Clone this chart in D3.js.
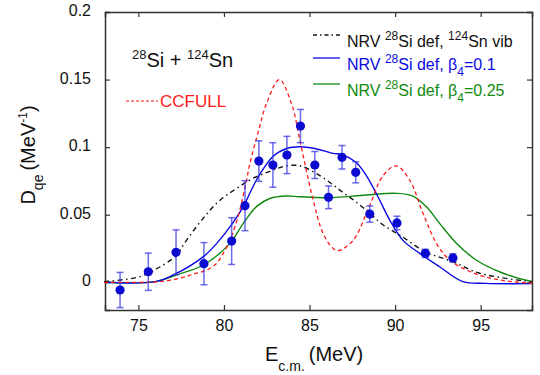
<!DOCTYPE html>
<html>
<head>
<meta charset="utf-8">
<script src="https://cdn.jsdelivr.net/npm/d3@7"></script>
<style>
  html, body { margin: 0; padding: 0; background: #fff; }
  svg { display: block; font-family: "Liberation Sans", Arial, Helvetica, sans-serif; }
</style>
</head>
<body>
<svg id="chart" width="540" height="375"></svg>
<script>
// Measured quasi-elastic barrier distribution, 28Si + 124Sn
const expE   = [73.93, 75.58, 77.2, 78.83, 80.45, 81.23, 82.04, 82.86, 83.68, 84.47, 85.31, 86.11, 86.9, 87.7, 88.52, 90.11, 91.77, 93.38];
const expD   = [-0.0057, 0.0078, 0.0222, 0.0138, 0.0305, 0.0567, 0.0897, 0.0868, 0.0942, 0.1156, 0.0868, 0.0629, 0.0925, 0.0814, 0.0505, 0.0439, 0.0214, 0.018];
const expErr = [0.013, 0.0138, 0.0166, 0.0156, 0.0173, 0.0185, 0.015, 0.0165, 0.0138, 0.0123, 0.010, 0.0084, 0.0087, 0.0078, 0.006, 0.005, 0.003, 0.003];

// CCFULL calculation
const ccfullE = [73.0, 75.0, 76.27, 77.43, 78.2, 78.99, 79.57, 79.96, 80.35, 80.64, 80.93, 81.32, 81.52, 82.04, 82.48, 83.24, 83.95, 84.47, 85.21, 85.8, 86.38, 86.7, 87.55, 88.52, 89.3, 90.07, 90.85, 91.63, 92.41, 93.19, 94.55, 96.1, 98.0];
const ccfullD = [0.0, 0.0, 0.0005, 0.003, 0.006, 0.009, 0.014, 0.0214, 0.031, 0.041, 0.0535, 0.0757, 0.088, 0.113, 0.132, 0.150, 0.132, 0.103, 0.061, 0.036, 0.025, 0.0235, 0.031, 0.057, 0.079, 0.0862, 0.0757, 0.051, 0.029, 0.0165, 0.007, 0.0017, -0.0007];

// NRV: 28Si deformed, 124Sn vibrational
const nrvVibE = [73.0, 75.1, 76.27, 77.24, 77.62, 78.7, 79.67, 80.74, 81.71, 82.86, 83.66, 84.44, 85.31, 86.13, 86.9, 87.7, 88.52, 89.3, 90.27, 91.77, 93.38, 94.94, 98.0];
const nrvVibD = [0.0005, 0.0042, 0.0115, 0.020, 0.0276, 0.046, 0.0596, 0.0695, 0.077, 0.083, 0.0862, 0.0862, 0.0812, 0.0744, 0.067, 0.0596, 0.051, 0.0424, 0.035, 0.0226, 0.0152, 0.0067, 0.0003];

// NRV: 28Si deformed, beta4 = 0.1
const nrvB01E = [73.0, 76.0, 77.04, 78.8, 79.58, 80.35, 81.13, 81.9, 82.86, 83.66, 84.44, 85.31, 86.38, 86.9, 87.7, 88.32, 89.0, 89.69, 90.46, 91.44, 92.6, 93.97, 95.3, 98.0];
const nrvB01D = [0.0, 0.0005, 0.0054, 0.019, 0.0288, 0.041, 0.056, 0.0757, 0.093, 0.099, 0.1003, 0.099, 0.0954, 0.0945, 0.089, 0.079, 0.0633, 0.046, 0.031, 0.0214, 0.0115, 0.0005, -0.0008, -0.001];

// NRV: 28Si deformed, beta4 = 0.25
const nrvB025E = [73.0, 76.0, 77.2, 78.8, 80.35, 81.13, 81.9, 82.68, 83.66, 84.4, 86.13, 88.32, 90.07, 91.04, 91.82, 92.6, 93.58, 94.74, 96.1, 97.86, 98.0];
const nrvB025D = [0.0, 0.0005, 0.0054, 0.0128, 0.0288, 0.0436, 0.056, 0.062, 0.0638, 0.0633, 0.0626, 0.0646, 0.0658, 0.0638, 0.056, 0.0436, 0.0289, 0.0165, 0.0078, 0.001, 0.0008];

const xTicks = [75, 80, 85, 90, 95];
const yTicks = [0, 0.05, 0.1, 0.15, 0.2];

const svg = d3.select("#chart");
const plot = { left: 105, right: 532, top: 12, bottom: 310 };

const x = d3.scaleLinear().domain([73.05, 98]).range([plot.left, plot.right]);
const y = d3.scaleLinear().domain([-0.0205, 0.2]).range([plot.bottom, plot.top]);

const axisColor = "#333";

// Axes with inward ticks on all four sides
const gx = svg.append("g").attr("transform", `translate(0,${plot.bottom})`)
  .call(d3.axisBottom(x).tickValues(xTicks).tickSize(-5).tickPadding(10).tickFormat(d3.format("d")));
const gxt = svg.append("g").attr("transform", `translate(0,${plot.top})`)
  .call(d3.axisTop(x).tickValues(xTicks).tickSize(-5).tickFormat(""));
const gy = svg.append("g").attr("transform", `translate(${plot.left},0)`)
  .call(d3.axisLeft(y).tickValues(yTicks).tickSize(-5).tickPadding(14).tickFormat(d => d === 0 ? "0" : String(d)));
const gyr = svg.append("g").attr("transform", `translate(${plot.right},0)`)
  .call(d3.axisRight(y).tickValues(yTicks).tickSize(-5).tickFormat(""));

[gx, gxt, gy, gyr].forEach(g => {
  g.select(".domain").attr("stroke", axisColor).attr("stroke-width", 1.5);
  g.selectAll(".tick line").attr("stroke", axisColor).attr("stroke-width", 1.2);
  g.selectAll("text").attr("font-size", 16).attr("fill", "#111")
    .attr("font-family", "'Liberation Sans', Arial, sans-serif");
});
gy.selectAll("text").attr("dy", "0.22em");

// Curves
const line = d3.line().x(d => x(d[0])).y(d => y(d[1])).curve(d3.curveCatmullRom.alpha(0.5));
const curves = svg.append("g");
const zip = (a, b) => a.map((v, i) => [v, b[i]]);

curves.append("path").datum(zip(nrvB025E, nrvB025D))
  .attr("d", line).attr("fill", "none").attr("stroke", "#118a11").attr("stroke-width", 1.4);
curves.append("path").datum(zip(nrvB01E, nrvB01D))
  .attr("d", line).attr("fill", "none").attr("stroke", "#0a0ae0").attr("stroke-width", 1.4);
curves.append("path").datum(zip(nrvVibE, nrvVibD))
  .attr("d", line).attr("fill", "none").attr("stroke", "#111").attr("stroke-width", 1.4)
  .attr("stroke-dasharray", "5,3.5,1.5,3.5");
curves.append("path").datum(zip(ccfullE, ccfullD))
  .attr("d", line).attr("fill", "none").attr("stroke", "#ff1a1a").attr("stroke-width", 1.3)
  .attr("stroke-dasharray", "4,3");

// Experimental points with error bars
const pts = svg.append("g");
const expData = expE.map((e, i) => ({ e, d: expD[i], err: expErr[i] }));
const eb = pts.selectAll("g.eb").data(expData).join("g").attr("class", "eb")
  .attr("stroke", "#3a3ae6").attr("stroke-opacity", 0.75).attr("stroke-width", 1.5);
eb.append("line").attr("x1", d => x(d.e)).attr("x2", d => x(d.e))
  .attr("y1", d => y(d.d - d.err)).attr("y2", d => y(d.d + d.err));
eb.append("line").attr("x1", d => x(d.e) - 3.5).attr("x2", d => x(d.e) + 3.5)
  .attr("y1", d => y(d.d - d.err)).attr("y2", d => y(d.d - d.err));
eb.append("line").attr("x1", d => x(d.e) - 3.5).attr("x2", d => x(d.e) + 3.5)
  .attr("y1", d => y(d.d + d.err)).attr("y2", d => y(d.d + d.err));
pts.selectAll("circle").data(expData).join("circle")
  .attr("cx", d => x(d.e)).attr("cy", d => y(d.d)).attr("r", 4.6)
  .attr("fill", "#0a0ad0");

// Axis titles
const xl = svg.append("text").attr("x", 265).attr("y", 360.5).attr("font-size", 20).attr("fill", "#111");
xl.append("tspan").text("E");
xl.append("tspan").attr("dy", 10).attr("font-size", 14).text("c.m.");
xl.append("tspan").attr("dy", -10).attr("dx", 4).text("(MeV)");

const yl = svg.append("text").attr("transform", "translate(35,155) rotate(-90)")
  .attr("text-anchor", "middle").attr("font-size", 20).attr("fill", "#111");
yl.append("tspan").text("D");
yl.append("tspan").attr("dy", 8).attr("font-size", 14).text("qe");
yl.append("tspan").attr("dy", -8).attr("dx", 4).text("(MeV");
yl.append("tspan").attr("dy", -8).attr("font-size", 12).text("-1");
yl.append("tspan").attr("dy", 8).text(")");

// Reaction label
const rl = svg.append("text").attr("x", 132).attr("y", 67).attr("font-size", 20).attr("fill", "#111");
rl.append("tspan").attr("dy", -8).attr("font-size", 13).text("28");
rl.append("tspan").attr("dy", 8).text("Si + ");
rl.append("tspan").attr("dy", -8).attr("font-size", 13).text("124");
rl.append("tspan").attr("dy", 8).text("Sn");

// CCFULL label
svg.append("line").attr("x1", 126).attr("x2", 158).attr("y1", 101).attr("y2", 101)
  .attr("stroke", "#ff1a1a").attr("stroke-width", 1.2).attr("stroke-dasharray", "3,2");
svg.append("text").attr("x", 160).attr("y", 106.5).attr("font-size", 17).attr("fill", "#ff1a1a").text("CCFULL");

// Legend
const legend = [
  { y: 35, color: "#111", dash: "4,3,1.5,3", parts: [["NRV ", 0], ["28", 1], ["Si def, ", 0], ["124", 1], ["Sn vib", 0]] },
  { y: 58, color: "#0a0ae0", dash: null, parts: [["NRV ", 0], ["28", 1], ["Si def, β", 0], ["4", -1], ["=0.1", 0]] },
  { y: 84, color: "#118a11", dash: null, parts: [["NRV ", 0], ["28", 1], ["Si def, β", 0], ["4", -1], ["=0.25", 0]] }
];
const lg = svg.append("g");
legend.forEach(item => {
  lg.append("line").attr("x1", 313).attr("x2", 340).attr("y1", item.y).attr("y2", item.y)
    .attr("stroke", item.color).attr("stroke-width", 1.3)
    .attr("stroke-dasharray", item.dash);
  const t = lg.append("text").attr("x", 347).attr("y", item.y + 12).attr("font-size", 16)
    .attr("fill", item.color);
  let shift = 0;
  item.parts.forEach(([s, k]) => {
    const target = k === 1 ? -7 : (k === -1 ? 6 : 0);
    const sp = t.append("tspan").attr("dy", target - shift).text(s);
    if (k !== 0) sp.attr("font-size", 12);
    shift = target;
  });
});
</script>
</body>
</html>
